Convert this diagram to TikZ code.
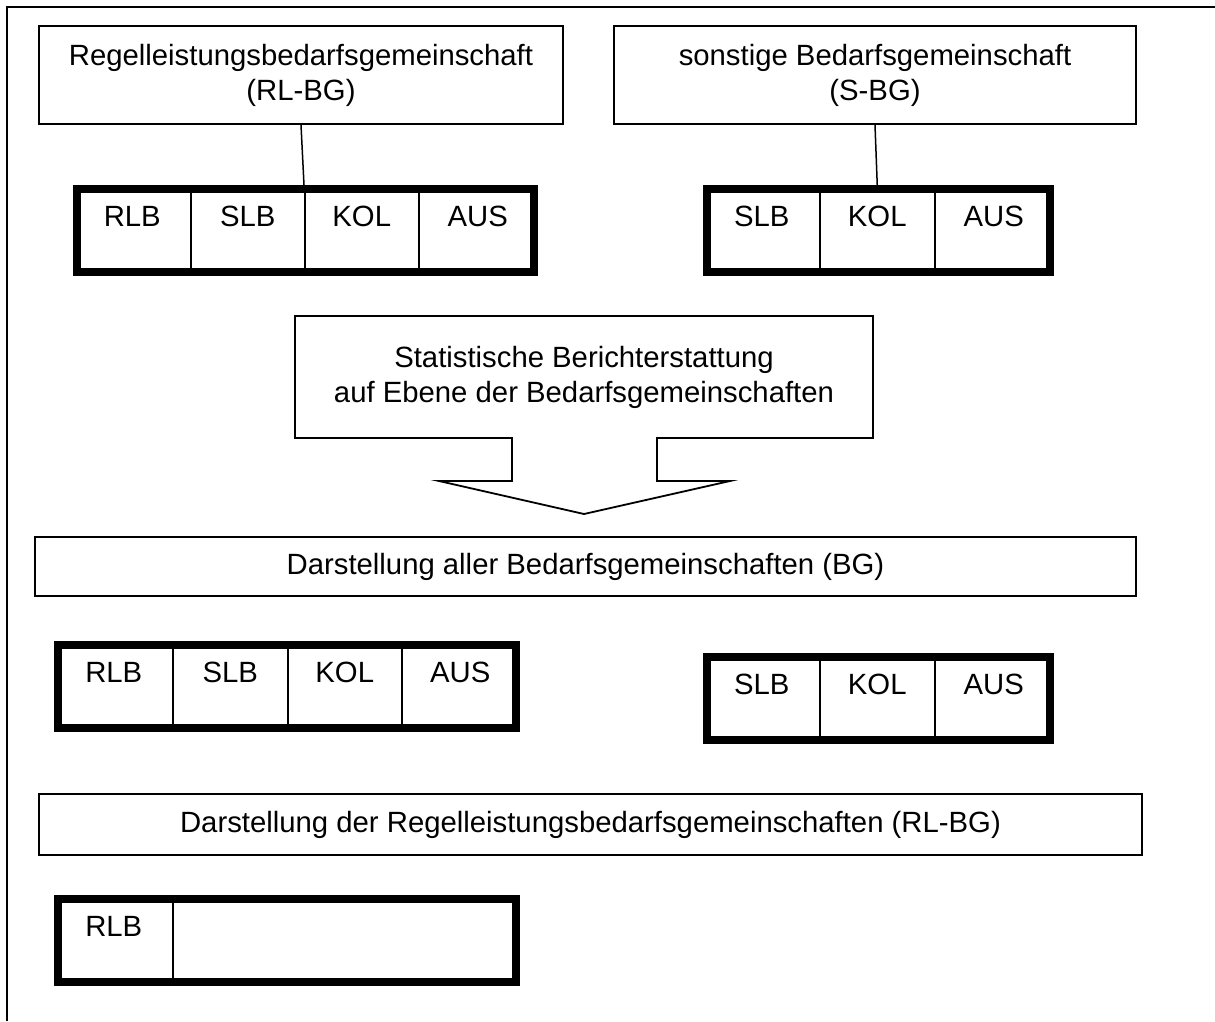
\documentclass[tikz,border=0pt]{standalone}
\usepackage{fontspec}
\setmainfont{Liberation Sans}
\usetikzlibrary{calc}
\begin{document}
\begin{tikzpicture}[x=1pt,y=-1pt,
  every node/.style={font=\fontsize{29.3}{35}\selectfont},
  box/.style={draw, line width=2pt, inner sep=0pt, align=center},
  cell/.style={draw, line width=1.5pt, inner sep=0pt, text height=41pt, text depth=48pt, anchor=north west},
  tblframe/.style={line width=8pt},
  conn/.style={line width=1.5pt},
  callout/.style={line width=1.8pt, line join=miter}]
\useasboundingbox (0,0) rectangle (1215,1021);
\fill[white] (0,0) rectangle (1215,1021);
\draw[line width=2pt] (7,1021) -- (7,7) -- (1215,7);

% top boxes
\node[box, minimum width=524pt, minimum height=98pt] (rlbg) at (301,75) {Regelleistungsbedarfsgemeinschaft\\(RL-BG)};
\node[box, minimum width=522pt, minimum height=98pt] (sbg) at (875,75) {sonstige Bedarfsgemeinschaft\\(S-BG)};

% table A
\node[cell, minimum width=117pt] (a1) at (73,185) {RLB};
\node[cell, minimum width=114pt] (a2) at (190,185) {SLB};
\node[cell, minimum width=114pt] (a3) at (304,185) {KOL};
\node[cell, minimum width=118pt] (a4) at (418,185) {AUS};
\draw[tblframe] ([shift={(4pt,-4pt)}]a1.north west) rectangle ([shift={(-4pt,4pt)}]a4.south east);
\draw[conn] (rlbg.south) -- (a3.north west);

% table B
\node[cell, minimum width=116pt] (b1) at (703,185) {SLB};
\node[cell, minimum width=115pt] (b2) at (819,185) {KOL};
\node[cell, minimum width=118pt] (b3) at (934,185) {AUS};
\draw[tblframe] ([shift={(4pt,-4pt)}]b1.north west) rectangle ([shift={(-4pt,4pt)}]b3.south east);
\draw[conn] (sbg.south) -- (b2.north);

% callout arrow
\draw[callout] (295,316) -- (873,316) -- (873,438) -- (657,438) -- (657,481) -- (730,481) -- (584,514) -- (439,481) -- (512,481) -- (512,438) -- (295,438) -- cycle;
\node[align=center, inner sep=0pt] (stat) at (584,377) {Statistische Berichterstattung\\auf Ebene der Bedarfsgemeinschaften};

% box C
\node[box, minimum width=1101pt, minimum height=59pt] (allbg) at (585.5,566.5) {Darstellung aller Bedarfsgemeinschaften (BG)};

% table C
\node[cell, minimum width=118pt] (c1) at (54,641) {RLB};
\node[cell, minimum width=115pt] (c2) at (172,641) {SLB};
\node[cell, minimum width=114pt] (c3) at (287,641) {KOL};
\node[cell, minimum width=117pt] (c4) at (401,641) {AUS};
\draw[tblframe] ([shift={(4pt,-4pt)}]c1.north west) rectangle ([shift={(-4pt,4pt)}]c4.south east);

% table D
\node[cell, minimum width=116pt] (d1) at (703,653) {SLB};
\node[cell, minimum width=115pt] (d2) at (819,653) {KOL};
\node[cell, minimum width=118pt] (d3) at (934,653) {AUS};
\draw[tblframe] ([shift={(4pt,-4pt)}]d1.north west) rectangle ([shift={(-4pt,4pt)}]d3.south east);

% box E
\node[box, minimum width=1103pt, minimum height=61pt] (rlbgall) at (590.5,824.5) {Darstellung der Regelleistungsbedarfsgemeinschaften (RL-BG)};

% table F
\node[cell, minimum width=118pt] (f1) at (54,895) {RLB};
\node[cell, minimum width=346pt] (f2) at (172,895) {};
\draw[tblframe] ([shift={(4pt,-4pt)}]f1.north west) rectangle ([shift={(-4pt,4pt)}]f2.south east);
\end{tikzpicture}
\end{document}
